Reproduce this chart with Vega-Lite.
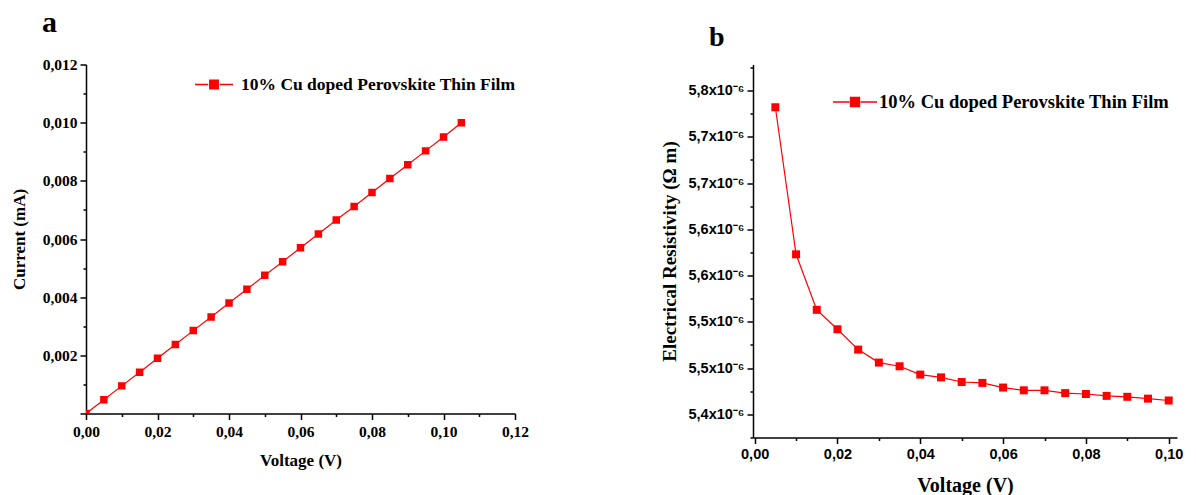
{
  "$schema": "https://vega.github.io/schema/vega-lite/v6.json",
  "background": "white",
  "padding": {"left": 10, "top": 7.5, "right": 5, "bottom": 5},
  "spacing": 131,
  "resolve": {"scale": {"color": "independent"}, "legend": {"color": "independent"}},
  "config": {
    "view": {"stroke": null},
    "axis": {"domainColor": "black", "tickColor": "black", "domainWidth": 1.5, "tickWidth": 1.5, "grid": false, "labelColor": "black", "titleColor": "black", "labelFlush": false, "labelOverlap": false}
  },
  "datasets": {
    "iv": [
      {"v": 0.000, "c": 0.00000, "series": "10% Cu doped Perovskite Thin Film"},
      {"v": 0.005, "c": 0.00047, "series": "10% Cu doped Perovskite Thin Film"},
      {"v": 0.010, "c": 0.00095, "series": "10% Cu doped Perovskite Thin Film"},
      {"v": 0.015, "c": 0.00142, "series": "10% Cu doped Perovskite Thin Film"},
      {"v": 0.020, "c": 0.00190, "series": "10% Cu doped Perovskite Thin Film"},
      {"v": 0.025, "c": 0.00237, "series": "10% Cu doped Perovskite Thin Film"},
      {"v": 0.030, "c": 0.00285, "series": "10% Cu doped Perovskite Thin Film"},
      {"v": 0.035, "c": 0.00332, "series": "10% Cu doped Perovskite Thin Film"},
      {"v": 0.040, "c": 0.00380, "series": "10% Cu doped Perovskite Thin Film"},
      {"v": 0.045, "c": 0.00427, "series": "10% Cu doped Perovskite Thin Film"},
      {"v": 0.050, "c": 0.00475, "series": "10% Cu doped Perovskite Thin Film"},
      {"v": 0.055, "c": 0.00522, "series": "10% Cu doped Perovskite Thin Film"},
      {"v": 0.060, "c": 0.00570, "series": "10% Cu doped Perovskite Thin Film"},
      {"v": 0.065, "c": 0.00617, "series": "10% Cu doped Perovskite Thin Film"},
      {"v": 0.070, "c": 0.00665, "series": "10% Cu doped Perovskite Thin Film"},
      {"v": 0.075, "c": 0.00712, "series": "10% Cu doped Perovskite Thin Film"},
      {"v": 0.080, "c": 0.00760, "series": "10% Cu doped Perovskite Thin Film"},
      {"v": 0.085, "c": 0.00808, "series": "10% Cu doped Perovskite Thin Film"},
      {"v": 0.090, "c": 0.00855, "series": "10% Cu doped Perovskite Thin Film"},
      {"v": 0.095, "c": 0.00903, "series": "10% Cu doped Perovskite Thin Film"},
      {"v": 0.100, "c": 0.00951, "series": "10% Cu doped Perovskite Thin Film"},
      {"v": 0.105, "c": 0.01000, "series": "10% Cu doped Perovskite Thin Film"}
    ],
    "res": [
      {"v": 0.005, "r": 5.782, "series": "10% Cu doped Perovskite Thin Film"},
      {"v": 0.010, "r": 5.623, "series": "10% Cu doped Perovskite Thin Film"},
      {"v": 0.015, "r": 5.563, "series": "10% Cu doped Perovskite Thin Film"},
      {"v": 0.020, "r": 5.542, "series": "10% Cu doped Perovskite Thin Film"},
      {"v": 0.025, "r": 5.520, "series": "10% Cu doped Perovskite Thin Film"},
      {"v": 0.030, "r": 5.506, "series": "10% Cu doped Perovskite Thin Film"},
      {"v": 0.035, "r": 5.502, "series": "10% Cu doped Perovskite Thin Film"},
      {"v": 0.040, "r": 5.493, "series": "10% Cu doped Perovskite Thin Film"},
      {"v": 0.045, "r": 5.490, "series": "10% Cu doped Perovskite Thin Film"},
      {"v": 0.050, "r": 5.485, "series": "10% Cu doped Perovskite Thin Film"},
      {"v": 0.055, "r": 5.484, "series": "10% Cu doped Perovskite Thin Film"},
      {"v": 0.060, "r": 5.479, "series": "10% Cu doped Perovskite Thin Film"},
      {"v": 0.065, "r": 5.476, "series": "10% Cu doped Perovskite Thin Film"},
      {"v": 0.070, "r": 5.476, "series": "10% Cu doped Perovskite Thin Film"},
      {"v": 0.075, "r": 5.473, "series": "10% Cu doped Perovskite Thin Film"},
      {"v": 0.080, "r": 5.472, "series": "10% Cu doped Perovskite Thin Film"},
      {"v": 0.085, "r": 5.470, "series": "10% Cu doped Perovskite Thin Film"},
      {"v": 0.090, "r": 5.469, "series": "10% Cu doped Perovskite Thin Film"},
      {"v": 0.095, "r": 5.467, "series": "10% Cu doped Perovskite Thin Film"},
      {"v": 0.100, "r": 5.465, "series": "10% Cu doped Perovskite Thin Film"}
    ]
  },
  "hconcat": [
    {
      "width": 429,
      "height": 349,
      "title": {"text": "a", "anchor": "start", "frame": "group", "font": "Liberation Serif", "fontSize": 30, "fontWeight": "bold", "color": "black", "dx": -44, "offset": 20},
      "data": {"name": "iv"},
      "encoding": {
        "x": {
          "field": "v", "type": "quantitative",
          "scale": {"domain": [0, 0.12], "nice": false, "zero": false},
          "axis": {
            "title": "Voltage (V)",
            "values": [0, 0.01, 0.02, 0.03, 0.04, 0.05, 0.06, 0.07, 0.08, 0.09, 0.1, 0.11, 0.12],
            "labelExpr": "round(datum.value*100)%2==1 ? '' : replace(format(datum.value,'.2f'),'.',',')",
            "tickSize": {"condition": {"test": "round(datum.value*100)%2==1", "value": 3}, "value": 6},
            "labelFont": "Liberation Serif", "labelFontWeight": "bold", "labelFontSize": 15.5, "labelPadding": 5,
            "titleFont": "Liberation Serif", "titleFontWeight": "bold", "titleFontSize": 17, "titlePadding": 12
          }
        },
        "y": {
          "field": "c", "type": "quantitative",
          "scale": {"domain": [0, 0.012], "nice": false, "zero": false},
          "axis": {
            "title": "Current (mA)",
            "values": [0, 0.001, 0.002, 0.003, 0.004, 0.005, 0.006, 0.007, 0.008, 0.009, 0.01, 0.011, 0.012],
            "labelExpr": "(round(datum.value*1000)%2==1 || datum.value==0) ? '' : replace(format(datum.value,'.3f'),'.',',')",
            "tickSize": {"condition": {"test": "round(datum.value*1000)%2==1", "value": 3}, "value": 6},
            "labelFont": "Liberation Serif", "labelFontWeight": "bold", "labelFontSize": 15.5, "labelPadding": 3,
            "titleFont": "Liberation Serif", "titleFontWeight": "bold", "titleFontSize": 17, "titlePadding": 14
          }
        }
      },
      "layer": [
        {"mark": {"type": "line", "color": "#ff0000", "strokeWidth": 1.2, "clip": true}},
        {
          "mark": {"type": "point", "shape": "square", "filled": true, "size": 56, "opacity": 1, "clip": true},
          "encoding": {
            "color": {
              "field": "series", "type": "nominal",
              "scale": {"range": ["#ff0000"]},
              "legend": {
                "title": null, "orient": "none", "legendX": 108, "legendY": 0,
                "symbolType": "M-1,0L-0.3,0M0.3,0L1,0M-0.22,-0.22L0.22,-0.22L0.22,0.22L-0.22,0.22Z",
                "symbolSize": 1444, "symbolStrokeColor": "#ff0000", "symbolStrokeWidth": 1.5, "symbolFillColor": "#ff0000", "symbolOpacity": 1,
                "labelFont": "Liberation Serif", "labelFontWeight": "bold", "labelFontSize": 17.5, "labelColor": "black", "labelLimit": 500, "labelOffset": 7, "padding": 0
              }
            }
          }
        }
      ]
    },
    {
      "width": 424,
      "height": 373,
      "title": {"text": "b", "anchor": "start", "frame": "group", "font": "Liberation Serif", "fontSize": 28, "fontWeight": "bold", "color": "black", "dx": -44, "offset": 7.5},
      "data": {"name": "res"},
      "encoding": {
        "x": {
          "field": "v", "type": "quantitative",
          "scale": {"domain": [-0.0004, 0.102], "nice": false, "zero": false},
          "axis": {
            "title": "Voltage (V)",
            "values": [0, 0.01, 0.02, 0.03, 0.04, 0.05, 0.06, 0.07, 0.08, 0.09, 0.1],
            "labelExpr": "round(datum.value*100)%2==1 ? '' : replace(format(datum.value,'.2f'),'.',',')",
            "tickSize": {"condition": {"test": "round(datum.value*100)%2==1", "value": 3}, "value": 6},
            "labelFont": "Liberation Sans", "labelFontWeight": "bold", "labelFontSize": 14.5, "labelPadding": 4,
            "titleFont": "Liberation Serif", "titleFontWeight": "bold", "titleFontSize": 20, "titlePadding": 14
          }
        },
        "y": {
          "field": "r", "type": "quantitative",
          "scale": {"domain": [5.425, 5.8282], "nice": false, "zero": false},
          "axis": {
            "title": "Electrical Resistivity (Ω m)",
            "values": [5.425, 5.45, 5.475, 5.5, 5.525, 5.55, 5.575, 5.6, 5.625, 5.65, 5.675, 5.7, 5.725, 5.75, 5.775, 5.8, 5.825],
            "labelExpr": "abs(datum.value*20 - round(datum.value*20)) > 0.1 ? '' : replace(format(floor(datum.value*10+0.000001)/10,'.1f'),'.',',') + 'x10⁻⁶'",
            "tickSize": {"condition": {"test": "abs(datum.value*20 - round(datum.value*20)) > 0.1", "value": 3}, "value": 6},
            "labelFont": "Liberation Sans", "labelFontWeight": "bold", "labelFontSize": 14.5, "labelPadding": 3,
            "titleFont": "Liberation Serif", "titleFontWeight": "bold", "titleFontSize": 19, "titlePadding": 8
          }
        }
      },
      "layer": [
        {"mark": {"type": "line", "color": "#ff0000", "strokeWidth": 1.2}},
        {
          "mark": {"type": "point", "shape": "square", "filled": true, "size": 64, "opacity": 1},
          "encoding": {
            "color": {
              "field": "series", "type": "nominal",
              "scale": {"range": ["#ff0000"]},
              "legend": {
                "title": null, "orient": "none", "legendX": 79, "legendY": 14.5,
                "symbolType": "M-1,0L-0.25,0M0.25,0L1,0M-0.2,-0.2L0.2,-0.2L0.2,0.2L-0.2,0.2Z",
                "symbolSize": 1936, "symbolStrokeColor": "#ff0000", "symbolStrokeWidth": 1.5, "symbolFillColor": "#ff0000", "symbolOpacity": 1,
                "labelFont": "Liberation Serif", "labelFontWeight": "bold", "labelFontSize": 18.5, "labelColor": "black", "labelLimit": 500, "labelOffset": 1, "padding": 0
              }
            }
          }
        }
      ]
    }
  ]
}
